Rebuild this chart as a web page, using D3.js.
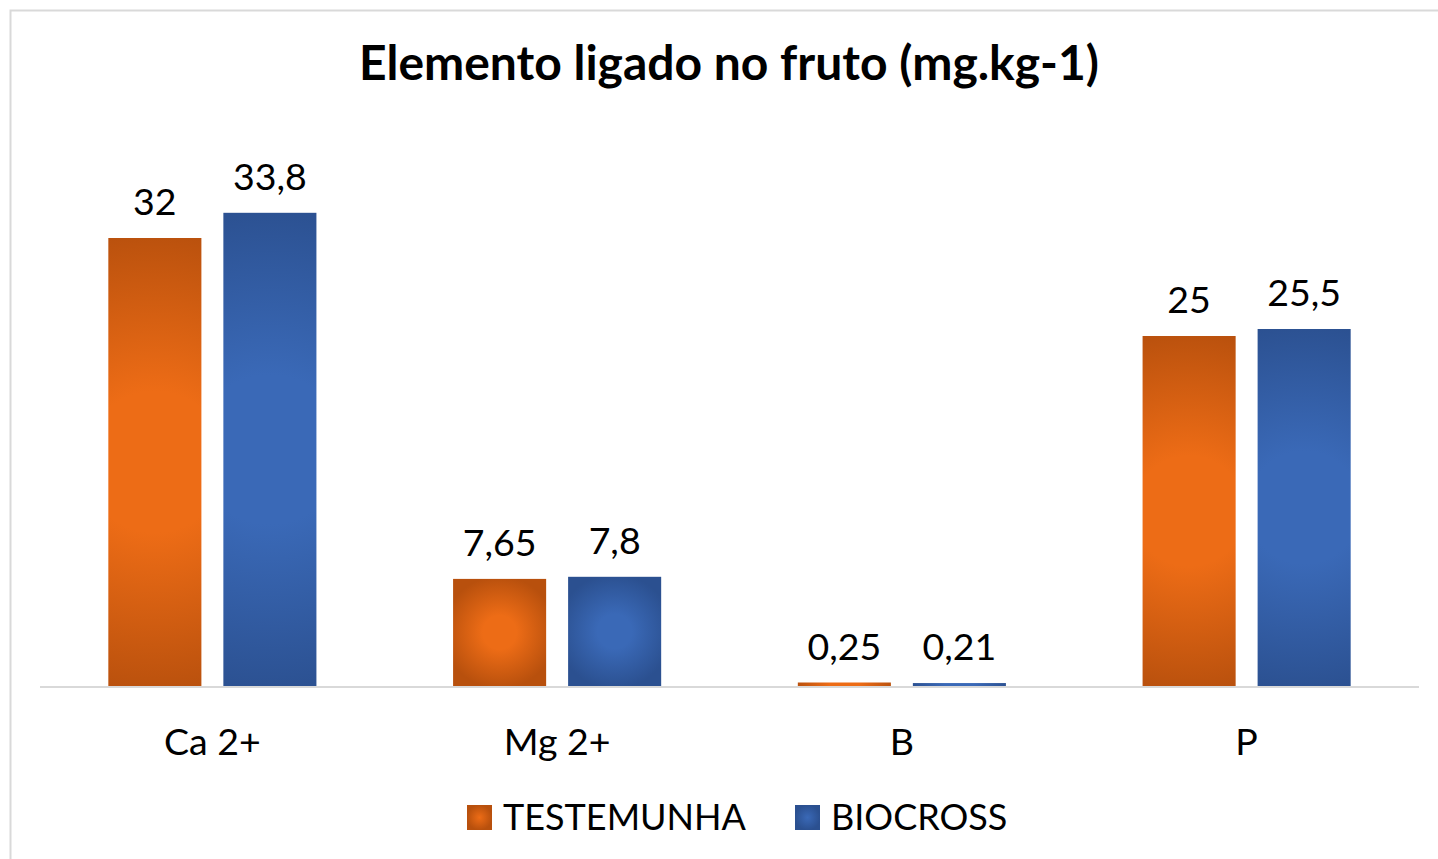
<!DOCTYPE html>
<html>
<head>
<meta charset="utf-8">
<script src="https://cdn.jsdelivr.net/npm/d3@7"></script>
<style>
  body { margin: 0; background: #fff; }
  text { font-family: Lato, "Open Sans", sans-serif; fill: #000; }
</style>
</head>
<body>
<div class="chart"></div>
<script>
// values
const categories = ["Ca 2+", "Mg 2+", "B", "P"];
const seriesNames = ["TESTEMUNHA", "BIOCROSS"];
const testemunha = [32, 7.65, 0.25, 25];
const biocross = [33.8, 7.8, 0.21, 25.5];
const labelsTestemunha = ["32", "7,65", "0,25", "25"];
const labelsBiocross = ["33,8", "7,8", "0,21", "25,5"];

const W = 1438, H = 859;
const margin = {top: 0, left: 40, right: 19, bottom: 0};
const baseY = 686;

const colors = {
    TESTEMUNHA: {inner: "#ED6C16", outer: "#B8500D"},
    BIOCROSS: {inner: "#3A69B7", outer: "#2B5090"}
};

const svg = d3.select(".chart")
    .append("svg")
    .attr("width", W)
    .attr("height", H);

// chart frame
svg.append("rect")
    .attr("x", 10.5).attr("y", 10.5)
    .attr("width", W + 20).attr("height", H + 20)
    .attr("fill", "none")
    .attr("stroke", "#D9D9D9")
    .attr("stroke-width", 2);

svg.append("text")
    .attr("x", 729)
    .attr("y", 80)
    .attr("text-anchor", "middle")
    .style("font-weight", "bold")
    .style("font-size", "48px")
    .text("Elemento ligado no fruto (mg.kg-1)");

const xScale = d3.scaleBand()
    .domain(categories)
    .range([margin.left, W - margin.right]);

const xInner = d3.scaleBand()
    .domain(seriesNames)
    .range([0, xScale.bandwidth()])
    .paddingInner(0.191)
    .paddingOuter(0.594);

const yScale = d3.scaleLinear()
    .domain([0, 35])
    .range([baseY, baseY - 35 * 14]);

const rows = [];
categories.forEach((c, i) => {
    rows.push({cat: c, s: "TESTEMUNHA", v: testemunha[i], label: labelsTestemunha[i]});
    rows.push({cat: c, s: "BIOCROSS", v: biocross[i], label: labelsBiocross[i]});
});

const defs = svg.append("defs");
rows.forEach((d, i) => {
    const x0 = xScale(d.cat) + xInner(d.s);
    const w = xInner.bandwidth();
    const y0 = yScale(d.v);
    const h = baseY - y0;
    const g = defs.append("radialGradient")
        .attr("id", "grad" + i)
        .attr("gradientUnits", "userSpaceOnUse")
        .attr("cx", x0 + w / 2)
        .attr("cy", y0 + h / 2)
        .attr("r", Math.max(w / 2, h / 2) * 1.05);
    g.append("stop").attr("offset", "0").attr("stop-color", colors[d.s].inner);
    g.append("stop").attr("offset", "0.3").attr("stop-color", colors[d.s].inner);
    g.append("stop").attr("offset", "1").attr("stop-color", colors[d.s].outer);
});

svg.append("g")
    .selectAll("rect")
    .data(rows)
    .join("rect")
    .attr("x", d => xScale(d.cat) + xInner(d.s))
    .attr("y", d => yScale(d.v))
    .attr("width", xInner.bandwidth())
    .attr("height", d => baseY - yScale(d.v))
    .attr("fill", (d, i) => `url(#grad${i})`);

// baseline
svg.append("line")
    .attr("x1", margin.left).attr("x2", W - margin.right)
    .attr("y1", baseY + 1).attr("y2", baseY + 1)
    .attr("stroke", "#D9D9D9")
    .attr("stroke-width", 2);

// value labels
svg.append("g")
    .selectAll("text")
    .data(rows)
    .join("text")
    .attr("x", d => xScale(d.cat) + xInner(d.s) + xInner.bandwidth() / 2)
    .attr("y", d => yScale(d.v) - 23)
    .attr("text-anchor", "middle")
    .style("font-size", "37.5px")
    .text(d => d.label);

// category labels
svg.append("g")
    .selectAll("text")
    .data(categories)
    .join("text")
    .attr("x", d => xScale(d) + xScale.bandwidth() / 2)
    .attr("y", 755)
    .attr("text-anchor", "middle")
    .style("font-size", "37.5px")
    .text(d => d);

// legend
const legendX = [467, 795];
const leg = svg.append("g")
    .selectAll("g")
    .data(seriesNames)
    .join("g")
    .attr("transform", (d, i) => `translate(${legendX[i]},805)`);

seriesNames.forEach((s, i) => {
    const g = defs.append("radialGradient").attr("id", "leg" + i);
    g.append("stop").attr("offset", "0").attr("stop-color", colors[s].inner);
    g.append("stop").attr("offset", "1").attr("stop-color", colors[s].outer);
});

leg.append("rect")
    .attr("width", 25).attr("height", 25)
    .attr("fill", (d, i) => `url(#leg${i})`);

leg.append("text")
    .attr("x", 36)
    .attr("y", 25)
    .style("font-size", "36px")
    .text(d => d);
</script>
</body>
</html>
